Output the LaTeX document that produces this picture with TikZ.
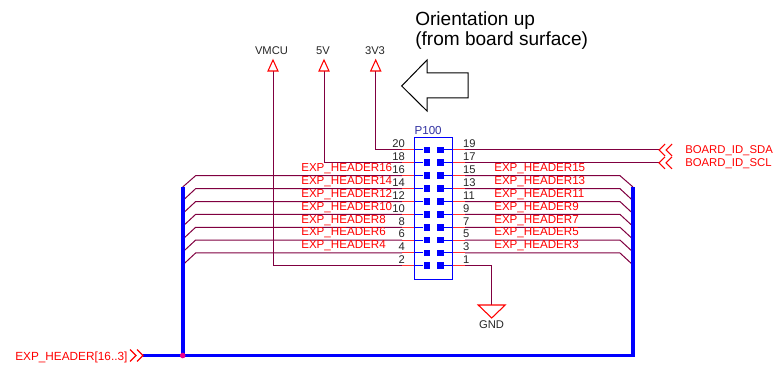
\documentclass[tikz,border=0pt]{standalone}
\usepackage{fontspec}
\setmainfont{Liberation Sans}
\definecolor{netwire}{HTML}{800040}
\definecolor{refblue}{HTML}{3030A0}
\tikzset{
  wire/.style={draw=netwire, line width=0.75pt},
  buswire/.style={draw=blue, line width=2.7pt},
  stubred/.style={draw=red!80!white, line width=0.75pt},
  stubblue/.style={draw=blue, line width=0.75pt},
  flagred/.style={draw=red, line width=0.8pt},
  pad/.style={fill=blue, inner sep=0pt, minimum size=5pt},
  netname/.style={text=red, font=\fontsize{8.7}{10}\selectfont, inner sep=0pt, anchor=base west},
  pinnum/.style={text=black!85, font=\fontsize{8.4}{10}\selectfont, inner sep=0pt},
  numleft/.style={pinnum, anchor=base east, xshift=2.4pt, yshift=1.6pt},
  numright/.style={pinnum, anchor=base west, xshift=-1.6pt, yshift=1.6pt},
  rail/.style={text=black!85, font=\fontsize{8.4}{10}\selectfont, inner sep=0pt},
  offsheet/.pic={\draw[flagred] (6,-6) -- (0,0) -- (6,6) (13,-6) -- (7,0) -- (13,6);},
  railup/.pic={\draw[flagred] (-5,0) -- (0,-11) -- (5,0) -- cycle;},
  raildown/.pic={\draw[flagred] (-13.5,0) -- (13.5,0) -- (0,13) -- cycle;}
}
\begin{document}
\begin{tikzpicture}[x=0.75pt,y=-0.75pt]
  \useasboundingbox (0,0) rectangle (775,374);
  % header body
  \draw (433.5,208.2)node[draw=blue, line width=0.75pt, inner sep=0pt, minimum width=28.8pt, minimum height=106.2pt](P100){};
  \draw (414.3,134.5)node[netname, text=refblue, font=\fontsize{8.7}{10}\selectfont](ref){P100};
  % pads and stub ends, row by row
  \draw (427,150)node[pad](p20){} (440.3,150)node[pad](p19){} (402,150)coordinate(a20) (465,150)coordinate(a19);
  \draw (427,162.8)node[pad](p18){} (440.3,162.8)node[pad](p17){} (402,162.8)coordinate(a18) (465,162.8)coordinate(a17);
  \draw (427,175.7)node[pad](p16){} (440.3,175.7)node[pad](p15){} (402,175.7)coordinate(a16) (465,175.7)coordinate(a15);
  \draw (427,188.7)node[pad](p14){} (440.3,188.7)node[pad](p13){} (402,188.7)coordinate(a14) (465,188.7)coordinate(a13);
  \draw (427,201.6)node[pad](p12){} (440.3,201.6)node[pad](p11){} (402,201.6)coordinate(a12) (465,201.6)coordinate(a11);
  \draw (427,214.4)node[pad](p10){} (440.3,214.4)node[pad](p9){} (402,214.4)coordinate(a10) (465,214.4)coordinate(a9);
  \draw (427,227.3)node[pad](p8){} (440.3,227.3)node[pad](p7){} (402,227.3)coordinate(a8) (465,227.3)coordinate(a7);
  \draw (427,240.1)node[pad](p6){} (440.3,240.1)node[pad](p5){} (402,240.1)coordinate(a6) (465,240.1)coordinate(a5);
  \draw (427,253)node[pad](p4){} (440.3,253)node[pad](p3){} (402,253)coordinate(a4) (465,253)coordinate(a3);
  \draw (427,265.8)node[pad](p2){} (440.3,265.8)node[pad](p1){} (402,265.8)coordinate(a2) (465,265.8)coordinate(a1);
  % pin numbers
  \path (a20)node[numleft](n20){20} (a19)node[numright](n19){19};
  \path (a18)node[numleft](n18){18} (a17)node[numright](n17){17};
  \path (a16)node[numleft](n16){16} (a15)node[numright](n15){15};
  \path (a14)node[numleft](n14){14} (a13)node[numright](n13){13};
  \path (a12)node[numleft](n12){12} (a11)node[numright](n11){11};
  \path (a10)node[numleft](n10){10} (a9)node[numright](n9){9};
  \path (a8)node[numleft](n8){8} (a7)node[numright](n7){7};
  \path (a6)node[numleft](n6){6} (a5)node[numright](n5){5};
  \path (a4)node[numleft](n4){4} (a3)node[numright](n3){3};
  \path (a2)node[numleft](n2){2} (a1)node[numright](n1){1};
  % bus
  \draw (143,355.5)coordinate(busl) (633,355.5)coordinate(busr) (182.7,355.5)coordinate(busj);
  \draw (182.7,187)coordinate(e16) (182.7,200.7)coordinate(e14) (182.7,213.6)coordinate(e12) (182.7,226.4)coordinate(e10);
  \draw (182.7,239.3)coordinate(e8) (182.7,252.1)coordinate(e6) (182.7,265)coordinate(e4);
  \draw (633,187)coordinate(e15) (633,200.7)coordinate(e13) (633,213.6)coordinate(e11) (633,226.4)coordinate(e9);
  \draw (633,239.3)coordinate(e7) (633,252.1)coordinate(e5) (633,265)coordinate(e3);
  % wires on the left side
  \draw[wire] (a16) -- ++(-206.4,0) -- (e16);
  \draw[wire] (a14) -- ++(-206.4,0) -- (e14);
  \draw[wire] (a12) -- ++(-206.4,0) -- (e12);
  \draw[wire] (a10) -- ++(-206.4,0) -- (e10);
  \draw[wire] (a8) -- ++(-206.4,0) -- (e8);
  \draw[wire] (a6) -- ++(-206.4,0) -- (e6);
  \draw[wire] (a4) -- ++(-206.4,0) -- (e4);
  % wires on the right side
  \draw[wire] (a15) -- ++(155,0) -- (e15);
  \draw[wire] (a13) -- ++(155,0) -- (e13);
  \draw[wire] (a11) -- ++(155,0) -- (e11);
  \draw[wire] (a9) -- ++(155,0) -- (e9);
  \draw[wire] (a7) -- ++(155,0) -- (e7);
  \draw[wire] (a5) -- ++(155,0) -- (e5);
  \draw[wire] (a3) -- ++(155,0) -- (e3);
  % rails
  \draw (273,71)coordinate(vmcu) (324,71)coordinate(five) (375.7,71)coordinate(three) (491.7,305)coordinate(gnd);
  \draw[wire] (a2) -| (vmcu);
  \draw[wire] (a18) -| (five);
  \draw[wire] (a20) -| (three);
  \draw[wire] (a1) -| (gnd);
  \path (vmcu) pic{railup} (five) pic{railup} (three) pic{railup} (gnd) pic{raildown};
  \draw (271.5,51)node[rail](vmcutxt){VMCU};
  \draw (323,51)node[rail](fivetxt){5V};
  \draw (375,51)node[rail](threetxt){3V3};
  \draw (491.5,325)node[rail](gndtxt){GND};
  % board id nets
  \draw (659,150)coordinate(sda) (659,162.8)coordinate(scl);
  \draw[wire] (a19) -- (sda);
  \draw[wire] (a17) -- (scl);
  \path (sda) pic{offsheet} (scl) pic{offsheet};
  \draw (685,154)node[netname, font=\fontsize{8.5}{10}\selectfont](sdatxt){BOARD\_ID\_SDA};
  \draw (685,166.5)node[netname, font=\fontsize{8.5}{10}\selectfont](scltxt){BOARD\_ID\_SCL};
  % stubs
  \path[stubblue] (p20) -- (p20 -| P100.west) (p19) -- (p19 -| P100.east) (p18) -- (p18 -| P100.west) (p17) -- (p17 -| P100.east);
  \path[stubblue] (p16) -- (p16 -| P100.west) (p15) -- (p15 -| P100.east) (p14) -- (p14 -| P100.west) (p13) -- (p13 -| P100.east);
  \path[stubblue] (p12) -- (p12 -| P100.west) (p11) -- (p11 -| P100.east) (p10) -- (p10 -| P100.west) (p9) -- (p9 -| P100.east);
  \path[stubblue] (p8) -- (p8 -| P100.west) (p7) -- (p7 -| P100.east) (p6) -- (p6 -| P100.west) (p5) -- (p5 -| P100.east);
  \path[stubblue] (p4) -- (p4 -| P100.west) (p3) -- (p3 -| P100.east) (p2) -- (p2 -| P100.west) (p1) -- (p1 -| P100.east);
  \path[stubred] (a20) -- (p20 -| P100.west) (a19) -- (p19 -| P100.east) (a18) -- (p18 -| P100.west) (a17) -- (p17 -| P100.east);
  \path[stubred] (a16) -- (p16 -| P100.west) (a15) -- (p15 -| P100.east) (a14) -- (p14 -| P100.west) (a13) -- (p13 -| P100.east);
  \path[stubred] (a12) -- (p12 -| P100.west) (a11) -- (p11 -| P100.east) (a10) -- (p10 -| P100.west) (a9) -- (p9 -| P100.east);
  \path[stubred] (a8) -- (p8 -| P100.west) (a7) -- (p7 -| P100.east) (a6) -- (p6 -| P100.west) (a5) -- (p5 -| P100.east);
  \path[stubred] (a4) -- (p4 -| P100.west) (a3) -- (p3 -| P100.east) (a2) -- (p2 -| P100.west) (a1) -- (p1 -| P100.east);
  % bus drawn over the wires
  \draw[buswire] (busl) -- (busr) -- (e15);
  \draw[buswire] (busj) -- (e16);
  \draw (busj)node[circle, fill=magenta, inner sep=0pt, minimum size=4.2pt](dot){};
  \path (busl) pic[xscale=-1]{offsheet};
  \draw (15,360)node[netname, font=\fontsize{8.85}{10}\selectfont](bustxt){EXP\_HEADER[16..3]};
  % net names
  \draw (301,171.5)node[netname](l16){EXP\_HEADER16};
  \draw (301,184.5)node[netname](l14){EXP\_HEADER14};
  \draw (301,197.4)node[netname](l12){EXP\_HEADER12};
  \draw (301,210.2)node[netname](l10){EXP\_HEADER10};
  \draw (301,223.1)node[netname](l8){EXP\_HEADER8};
  \draw (301,235.9)node[netname](l6){EXP\_HEADER6};
  \draw (301,248.8)node[netname](l4){EXP\_HEADER4};
  \draw (494,171.5)node[netname](l15){EXP\_HEADER15};
  \draw (494,184.5)node[netname](l13){EXP\_HEADER13};
  \draw (494,197.4)node[netname](l11){EXP\_HEADER11};
  \draw (494,210.2)node[netname](l9){EXP\_HEADER9};
  \draw (494,223.1)node[netname](l7){EXP\_HEADER7};
  \draw (494,235.9)node[netname](l5){EXP\_HEADER5};
  \draw (494,248.8)node[netname](l3){EXP\_HEADER3};
  % orientation note
  \draw (415,26)node[anchor=base west, inner sep=0pt, font=\fontsize{14.3}{15}\selectfont](note1){Orientation up};
  \draw (415,45.5)node[anchor=base west, inner sep=0pt, font=\fontsize{14.3}{15}\selectfont](note2){(from board surface)};
  \draw[line width=0.75pt, line join=miter] (401.7,86) -- (427,60) -- (427,73) -- (468,73) -- (468,98) -- (427,98) -- (427,111) -- cycle;
\end{tikzpicture}
\end{document}
